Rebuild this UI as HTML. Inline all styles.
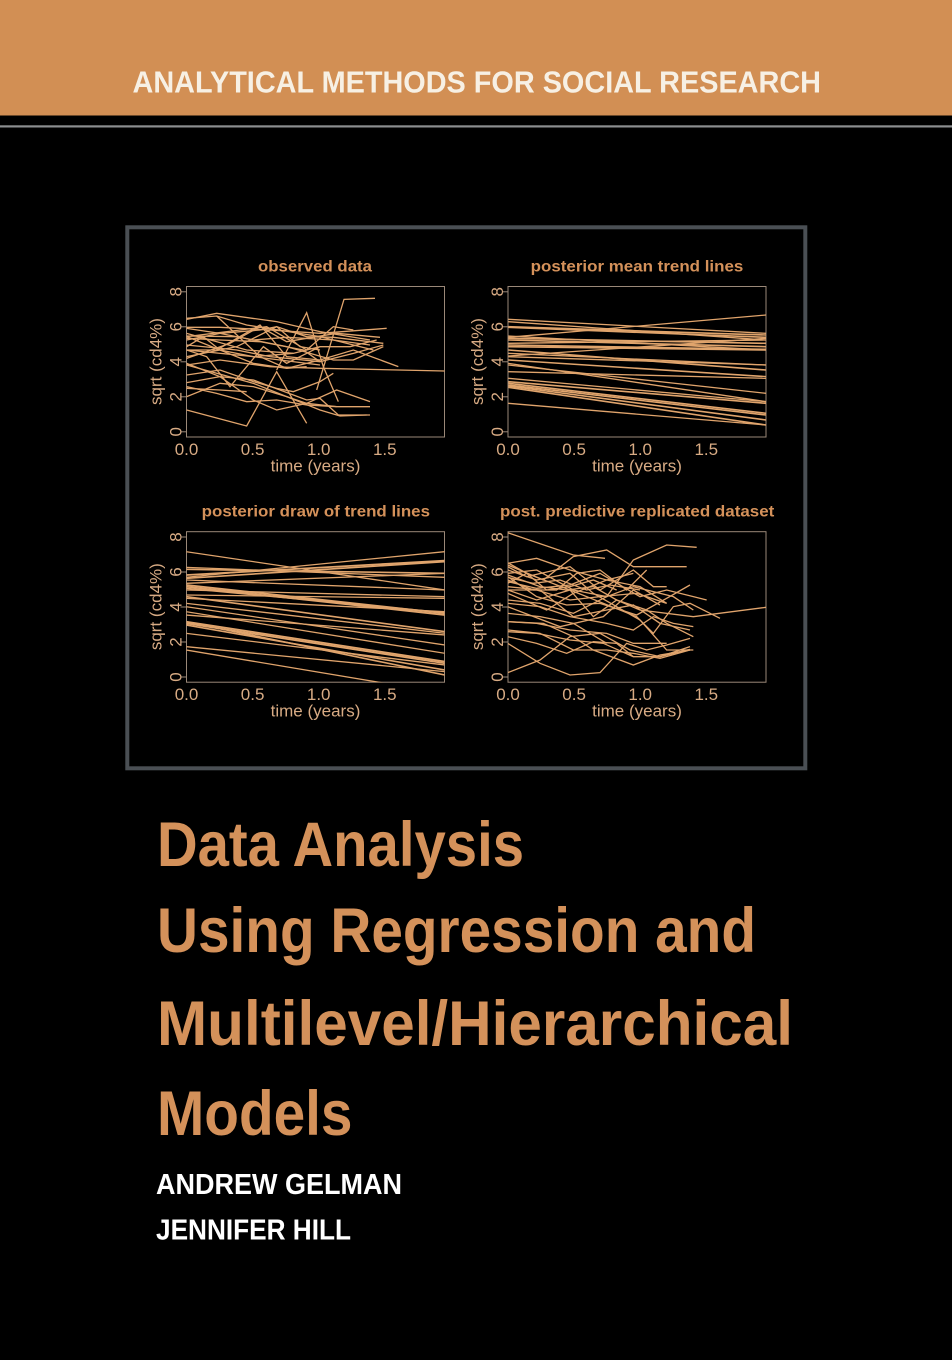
<!DOCTYPE html>
<html><head><meta charset="utf-8"><style>
html,body{margin:0;padding:0;background:#000;}
svg{display:block;}
</style></head><body>
<svg width="952" height="1360" viewBox="0 0 952 1360" xmlns="http://www.w3.org/2000/svg" font-family="'Liberation Sans', sans-serif">
<rect x="0" y="0" width="952" height="1360" fill="#000"/>
<rect x="0" y="0" width="952" height="115.5" fill="#d28f54"/>
<text x="132.5" y="92.7" font-size="31" font-weight="bold" fill="#f7f0e4" textLength="688.5" lengthAdjust="spacingAndGlyphs">ANALYTICAL METHODS FOR SOCIAL RESEARCH</text>
<rect x="0" y="125.3" width="952" height="2.2" fill="#8c8e90"/>
<rect x="127.3" y="227.3" width="678" height="541" fill="none" stroke="#4a4f54" stroke-width="4"/>

<defs>
<clipPath id="c1"><rect x="186.5" y="286.5" width="258" height="150.5"/></clipPath>
<clipPath id="c2"><rect x="508" y="286.5" width="258" height="150.5"/></clipPath>
<clipPath id="c3"><rect x="186.5" y="531.7" width="258" height="150.5"/></clipPath>
<clipPath id="c4"><rect x="508" y="531.7" width="258" height="150.5"/></clipPath>
</defs>

<g fill="#d8ab84" font-size="17">
  <g transform="translate(186.5,286.5)">
    <rect x="0" y="0" width="258" height="150.5" fill="none" stroke="#9a8878" stroke-width="1"/>
    <g stroke="#9a8878" stroke-width="1"><line x1="-6" y1="145.3" x2="0" y2="145.3"/><line x1="-6" y1="110.3" x2="0" y2="110.3"/><line x1="-6" y1="75.3" x2="0" y2="75.3"/><line x1="-6" y1="40.3" x2="0" y2="40.3"/><line x1="-6" y1="5.3" x2="0" y2="5.3"/></g>
    <text transform="translate(-4.8,145.3) rotate(-90)" text-anchor="middle">0</text>
    <text transform="translate(-4.8,110.3) rotate(-90)" text-anchor="middle">2</text>
    <text transform="translate(-4.8,75.3) rotate(-90)" text-anchor="middle">4</text>
    <text transform="translate(-4.8,40.3) rotate(-90)" text-anchor="middle">6</text>
    <text transform="translate(-4.8,5.3) rotate(-90)" text-anchor="middle">8</text>
    <text transform="translate(-24.8,75) rotate(-90)" text-anchor="middle">sqrt (cd4%)</text>
    <text x="0" y="168.5" text-anchor="middle">0.0</text><text x="66.1" y="168.5" text-anchor="middle">0.5</text><text x="132.2" y="168.5" text-anchor="middle">1.0</text><text x="198.3" y="168.5" text-anchor="middle">1.5</text>
    <text x="129" y="185" text-anchor="middle">time (years)</text>
    <text x="71.5" y="-15" font-size="16" font-weight="bold" textLength="114" lengthAdjust="spacingAndGlyphs" fill="#d4915a">observed data</text>
  </g>
  <g transform="translate(508,286.5)">
    <rect x="0" y="0" width="258" height="150.5" fill="none" stroke="#9a8878" stroke-width="1"/>
    <g stroke="#9a8878" stroke-width="1"><line x1="-6" y1="145.3" x2="0" y2="145.3"/><line x1="-6" y1="110.3" x2="0" y2="110.3"/><line x1="-6" y1="75.3" x2="0" y2="75.3"/><line x1="-6" y1="40.3" x2="0" y2="40.3"/><line x1="-6" y1="5.3" x2="0" y2="5.3"/></g>
    <text transform="translate(-4.8,145.3) rotate(-90)" text-anchor="middle">0</text>
    <text transform="translate(-4.8,110.3) rotate(-90)" text-anchor="middle">2</text>
    <text transform="translate(-4.8,75.3) rotate(-90)" text-anchor="middle">4</text>
    <text transform="translate(-4.8,40.3) rotate(-90)" text-anchor="middle">6</text>
    <text transform="translate(-4.8,5.3) rotate(-90)" text-anchor="middle">8</text>
    <text transform="translate(-24.8,75) rotate(-90)" text-anchor="middle">sqrt (cd4%)</text>
    <text x="0" y="168.5" text-anchor="middle">0.0</text><text x="66.1" y="168.5" text-anchor="middle">0.5</text><text x="132.2" y="168.5" text-anchor="middle">1.0</text><text x="198.3" y="168.5" text-anchor="middle">1.5</text>
    <text x="129" y="185" text-anchor="middle">time (years)</text>
    <text x="22.7" y="-15" font-size="16" font-weight="bold" textLength="212.6" lengthAdjust="spacingAndGlyphs" fill="#d4915a">posterior mean trend lines</text>
  </g>
  <g transform="translate(186.5,531.7)">
    <rect x="0" y="0" width="258" height="150.5" fill="none" stroke="#9a8878" stroke-width="1"/>
    <g stroke="#9a8878" stroke-width="1"><line x1="-6" y1="145.3" x2="0" y2="145.3"/><line x1="-6" y1="110.3" x2="0" y2="110.3"/><line x1="-6" y1="75.3" x2="0" y2="75.3"/><line x1="-6" y1="40.3" x2="0" y2="40.3"/><line x1="-6" y1="5.3" x2="0" y2="5.3"/></g>
    <text transform="translate(-4.8,145.3) rotate(-90)" text-anchor="middle">0</text>
    <text transform="translate(-4.8,110.3) rotate(-90)" text-anchor="middle">2</text>
    <text transform="translate(-4.8,75.3) rotate(-90)" text-anchor="middle">4</text>
    <text transform="translate(-4.8,40.3) rotate(-90)" text-anchor="middle">6</text>
    <text transform="translate(-4.8,5.3) rotate(-90)" text-anchor="middle">8</text>
    <text transform="translate(-24.8,75) rotate(-90)" text-anchor="middle">sqrt (cd4%)</text>
    <text x="0" y="168.5" text-anchor="middle">0.0</text><text x="66.1" y="168.5" text-anchor="middle">0.5</text><text x="132.2" y="168.5" text-anchor="middle">1.0</text><text x="198.3" y="168.5" text-anchor="middle">1.5</text>
    <text x="129" y="185" text-anchor="middle">time (years)</text>
    <text x="15.2" y="-15" font-size="16" font-weight="bold" textLength="228.3" lengthAdjust="spacingAndGlyphs" fill="#d4915a">posterior draw of trend lines</text>
  </g>
  <g transform="translate(508,531.7)">
    <rect x="0" y="0" width="258" height="150.5" fill="none" stroke="#9a8878" stroke-width="1"/>
    <g stroke="#9a8878" stroke-width="1"><line x1="-6" y1="145.3" x2="0" y2="145.3"/><line x1="-6" y1="110.3" x2="0" y2="110.3"/><line x1="-6" y1="75.3" x2="0" y2="75.3"/><line x1="-6" y1="40.3" x2="0" y2="40.3"/><line x1="-6" y1="5.3" x2="0" y2="5.3"/></g>
    <text transform="translate(-4.8,145.3) rotate(-90)" text-anchor="middle">0</text>
    <text transform="translate(-4.8,110.3) rotate(-90)" text-anchor="middle">2</text>
    <text transform="translate(-4.8,75.3) rotate(-90)" text-anchor="middle">4</text>
    <text transform="translate(-4.8,40.3) rotate(-90)" text-anchor="middle">6</text>
    <text transform="translate(-4.8,5.3) rotate(-90)" text-anchor="middle">8</text>
    <text transform="translate(-24.8,75) rotate(-90)" text-anchor="middle">sqrt (cd4%)</text>
    <text x="0" y="168.5" text-anchor="middle">0.0</text><text x="66.1" y="168.5" text-anchor="middle">0.5</text><text x="132.2" y="168.5" text-anchor="middle">1.0</text><text x="198.3" y="168.5" text-anchor="middle">1.5</text>
    <text x="129" y="185" text-anchor="middle">time (years)</text>
    <text x="-8" y="-15" font-size="16" font-weight="bold" textLength="274.3" lengthAdjust="spacingAndGlyphs" fill="#d4915a">post. predictive replicated dataset</text>
  </g>
</g>

<g clip-path="url(#c1)">
<g transform="translate(120,250) scale(0.33333)" fill="none" stroke="#e0a46c" stroke-width="1.3">
<polyline vector-effect="non-scaling-stroke" points="200,208 290,190 470,215 600,245 750,270"/>
<polyline vector-effect="non-scaling-stroke" points="200,205 290,198 380,225 600,260 760,300"/>
<polyline vector-effect="non-scaling-stroke" points="200,232 300,232 450,240 600,250 800,235"/>
<polyline vector-effect="non-scaling-stroke" points="200,480 380,528 470,365 560,520"/>
<polyline vector-effect="non-scaling-stroke" points="200,258 350,260 500,290 640,330 700,330 790,290"/>
<polyline vector-effect="non-scaling-stroke" points="470,360 560,188 610,350 655,455"/>
<polyline vector-effect="non-scaling-stroke" points="590,420 672,148 765,145"/>
<polyline vector-effect="non-scaling-stroke" points="200,345 300,330 450,350 600,355 975,363"/>
<polyline vector-effect="non-scaling-stroke" points="200,300 400,320 600,345"/>
<polyline vector-effect="non-scaling-stroke" points="200,320 350,290 470,230 540,290 600,300"/>
<polyline vector-effect="non-scaling-stroke" points="200,260 300,300 400,340 500,355 600,330 700,300 835,350"/>
<polyline vector-effect="non-scaling-stroke" points="200,300 290,300 420,225 500,320 600,330"/>
<polyline vector-effect="non-scaling-stroke" points="200,325 330,280 420,230 500,275 650,250 780,262"/>
<polyline vector-effect="non-scaling-stroke" points="200,440 300,400 400,410 500,440 560,460 650,420 750,455"/>
<polyline vector-effect="non-scaling-stroke" points="200,415 300,420 380,425"/>
<polyline vector-effect="non-scaling-stroke" points="200,410 290,430 380,455 470,450 560,465 650,470 750,470"/>
<polyline vector-effect="non-scaling-stroke" points="200,398 300,380 400,390 480,420 560,450 600,445 655,495 750,495"/>
<polyline vector-effect="non-scaling-stroke" points="200,375 300,360 400,395 470,415 520,425 600,395 640,370"/>
<polyline vector-effect="non-scaling-stroke" points="200,340 300,380 400,450 470,480 560,460 650,470"/>
<polyline vector-effect="non-scaling-stroke" points="200,345 400,400 500,440 600,480 660,498 740,495"/>
<polyline vector-effect="non-scaling-stroke" points="200,285 350,300 450,320 600,335 700,310 790,285"/>
<polyline vector-effect="non-scaling-stroke" points="200,260 440,230 560,300 640,230 700,240"/>
<polyline vector-effect="non-scaling-stroke" points="200,250 380,300 520,310 600,290 690,290 770,270"/>
<polyline vector-effect="non-scaling-stroke" points="200,290 250,260 300,300 400,320 520,310"/>
<polyline vector-effect="non-scaling-stroke" points="200,265 300,270 420,275 550,300 600,335"/>
<polyline vector-effect="non-scaling-stroke" points="200,300 260,320 330,410 430,290 500,340 600,290"/>
<polyline vector-effect="non-scaling-stroke" points="290,198 420,320 500,355 560,350"/>
<polyline vector-effect="non-scaling-stroke" points="200,270 300,250 420,240 470,230 560,260 640,262 790,280"/>
<polyline vector-effect="non-scaling-stroke" points="200,235 300,250 400,270 500,262 640,270 750,285"/>
</g></g>

<g clip-path="url(#c2)">
<g transform="translate(450,250) scale(0.33333)" fill="none" stroke="#e0a46c">
<line vector-effect="non-scaling-stroke" stroke-width="1.3" x1="175" y1="208" x2="948" y2="250"/>
<line vector-effect="non-scaling-stroke" stroke-width="1.3" x1="175" y1="215" x2="948" y2="270"/>
<line vector-effect="non-scaling-stroke" stroke-width="1.6" x1="175" y1="230" x2="948" y2="255"/>
<line vector-effect="non-scaling-stroke" stroke-width="1.6" x1="175" y1="232" x2="948" y2="262"/>
<line vector-effect="non-scaling-stroke" stroke-width="1.3" x1="175" y1="262" x2="948" y2="195"/>
<line vector-effect="non-scaling-stroke" stroke-width="1.3" x1="175" y1="258" x2="948" y2="300"/>
<line vector-effect="non-scaling-stroke" stroke-width="1.6" x1="175" y1="265" x2="948" y2="280"/>
<line vector-effect="non-scaling-stroke" stroke-width="1.6" x1="175" y1="270" x2="948" y2="290"/>
<line vector-effect="non-scaling-stroke" stroke-width="1.3" x1="175" y1="280" x2="948" y2="270"/>
<line vector-effect="non-scaling-stroke" stroke-width="1.6" x1="175" y1="285" x2="948" y2="298"/>
<line vector-effect="non-scaling-stroke" stroke-width="1.6" x1="175" y1="290" x2="948" y2="300"/>
<line vector-effect="non-scaling-stroke" stroke-width="1.6" x1="175" y1="300" x2="948" y2="360"/>
<line vector-effect="non-scaling-stroke" stroke-width="1.3" x1="175" y1="310" x2="948" y2="345"/>
<line vector-effect="non-scaling-stroke" stroke-width="1.3" x1="175" y1="318" x2="948" y2="265"/>
<line vector-effect="non-scaling-stroke" stroke-width="1.3" x1="175" y1="320" x2="948" y2="345"/>
<line vector-effect="non-scaling-stroke" stroke-width="1.6" x1="175" y1="330" x2="948" y2="380"/>
<line vector-effect="non-scaling-stroke" stroke-width="1.3" x1="175" y1="345" x2="948" y2="430"/>
<line vector-effect="non-scaling-stroke" stroke-width="1.3" x1="175" y1="340" x2="948" y2="455"/>
<line vector-effect="non-scaling-stroke" stroke-width="1.3" x1="175" y1="365" x2="948" y2="385"/>
<line vector-effect="non-scaling-stroke" stroke-width="1.3" x1="175" y1="385" x2="948" y2="455"/>
<line vector-effect="non-scaling-stroke" stroke-width="1.6" x1="175" y1="395" x2="948" y2="460"/>
<line vector-effect="non-scaling-stroke" stroke-width="1.6" x1="175" y1="400" x2="948" y2="490"/>
<line vector-effect="non-scaling-stroke" stroke-width="1.6" x1="175" y1="405" x2="948" y2="495"/>
<line vector-effect="non-scaling-stroke" stroke-width="1.6" x1="175" y1="408" x2="948" y2="510"/>
<line vector-effect="non-scaling-stroke" stroke-width="1.6" x1="175" y1="412" x2="948" y2="525"/>
<line vector-effect="non-scaling-stroke" stroke-width="1.3" x1="175" y1="460" x2="948" y2="525"/>
</g></g>

<g clip-path="url(#c3)">
<g transform="translate(130,490) scale(0.33333)" fill="none" stroke="#e0a46c">
<line vector-effect="non-scaling-stroke" stroke-width="1.3" x1="168" y1="185" x2="945" y2="300"/>
<line vector-effect="non-scaling-stroke" stroke-width="1.3" x1="168" y1="232" x2="945" y2="262"/>
<line vector-effect="non-scaling-stroke" stroke-width="1.6" x1="168" y1="238" x2="945" y2="250"/>
<line vector-effect="non-scaling-stroke" stroke-width="1.8" x1="168" y1="255" x2="945" y2="212"/>
<line vector-effect="non-scaling-stroke" stroke-width="1.3" x1="168" y1="262" x2="945" y2="185"/>
<line vector-effect="non-scaling-stroke" stroke-width="1.6" x1="168" y1="265" x2="945" y2="215"/>
<line vector-effect="non-scaling-stroke" stroke-width="1.3" x1="168" y1="270" x2="945" y2="300"/>
<line vector-effect="non-scaling-stroke" stroke-width="1.3" x1="168" y1="280" x2="945" y2="250"/>
<line vector-effect="non-scaling-stroke" stroke-width="1.8" x1="168" y1="285" x2="945" y2="370"/>
<line vector-effect="non-scaling-stroke" stroke-width="1.8" x1="168" y1="290" x2="945" y2="375"/>
<line vector-effect="non-scaling-stroke" stroke-width="1.6" x1="168" y1="295" x2="945" y2="368"/>
<line vector-effect="non-scaling-stroke" stroke-width="1.3" x1="168" y1="300" x2="945" y2="320"/>
<line vector-effect="non-scaling-stroke" stroke-width="1.3" x1="168" y1="315" x2="945" y2="325"/>
<line vector-effect="non-scaling-stroke" stroke-width="1.6" x1="168" y1="320" x2="945" y2="425"/>
<line vector-effect="non-scaling-stroke" stroke-width="1.3" x1="168" y1="325" x2="945" y2="365"/>
<line vector-effect="non-scaling-stroke" stroke-width="1.3" x1="168" y1="340" x2="945" y2="430"/>
<line vector-effect="non-scaling-stroke" stroke-width="1.3" x1="168" y1="350" x2="945" y2="465"/>
<line vector-effect="non-scaling-stroke" stroke-width="1.3" x1="168" y1="365" x2="945" y2="490"/>
<line vector-effect="non-scaling-stroke" stroke-width="1.3" x1="168" y1="375" x2="945" y2="435"/>
<line vector-effect="non-scaling-stroke" stroke-width="1.8" x1="168" y1="395" x2="945" y2="515"/>
<line vector-effect="non-scaling-stroke" stroke-width="1.8" x1="168" y1="400" x2="945" y2="520"/>
<line vector-effect="non-scaling-stroke" stroke-width="1.6" x1="168" y1="405" x2="945" y2="540"/>
<line vector-effect="non-scaling-stroke" stroke-width="1.6" x1="168" y1="395" x2="945" y2="555"/>
<line vector-effect="non-scaling-stroke" stroke-width="1.3" x1="168" y1="430" x2="945" y2="525"/>
<line vector-effect="non-scaling-stroke" stroke-width="1.3" x1="168" y1="470" x2="945" y2="545"/>
<line vector-effect="non-scaling-stroke" stroke-width="1.3" x1="168" y1="480" x2="945" y2="610"/>
</g></g>

<g clip-path="url(#c4)">
<g transform="translate(460,490) scale(0.33333)" fill="none" stroke="#e0a46c" stroke-width="1.3">
<polyline vector-effect="non-scaling-stroke" points="143,128 340,195 435,205"/>
<polyline vector-effect="non-scaling-stroke" points="143,220 230,205 330,240 440,270 540,290 620,340"/>
<polyline vector-effect="non-scaling-stroke" points="143,225 250,270 340,200 440,180 520,230 680,230"/>
<polyline vector-effect="non-scaling-stroke" points="143,230 200,260 330,230 420,300 520,240 580,290 620,290"/>
<polyline vector-effect="non-scaling-stroke" points="143,250 230,240 340,300 440,320 520,210 620,165 710,172"/>
<polyline vector-effect="non-scaling-stroke" points="143,260 230,320 320,345 420,340 530,375 620,325 690,285"/>
<polyline vector-effect="non-scaling-stroke" points="143,275 230,295 330,285 420,250 540,320 620,300 700,320 740,330"/>
<polyline vector-effect="non-scaling-stroke" points="143,290 240,300 340,380 440,360 520,345 600,400 690,420"/>
<polyline vector-effect="non-scaling-stroke" points="143,300 230,330 330,300 430,340 530,380 580,430 640,350 690,340 780,385"/>
<polyline vector-effect="non-scaling-stroke" points="143,310 260,360 340,310 440,270 520,250"/>
<polyline vector-effect="non-scaling-stroke" points="143,330 240,340 340,370 440,320 520,290 640,320 700,360"/>
<polyline vector-effect="non-scaling-stroke" points="143,340 240,350 330,380 440,400 520,420 580,380 640,400 700,410"/>
<polyline vector-effect="non-scaling-stroke" points="143,350 300,410 430,380 520,300 600,345"/>
<polyline vector-effect="non-scaling-stroke" points="143,395 230,400 330,420 440,430 520,460 620,460"/>
<polyline vector-effect="non-scaling-stroke" points="143,420 240,430 340,480 440,480 520,490 600,505 690,480"/>
<polyline vector-effect="non-scaling-stroke" points="143,425 230,430 330,450 430,460 520,500 600,500 690,478"/>
<polyline vector-effect="non-scaling-stroke" points="143,440 230,460 320,490 400,455 470,460 520,500"/>
<polyline vector-effect="non-scaling-stroke" points="143,460 240,520 330,555 420,548 500,460 560,480 620,465 690,445"/>
<polyline vector-effect="non-scaling-stroke" points="143,548 240,510 330,440 420,430 510,480 600,500 690,470"/>
<polyline vector-effect="non-scaling-stroke" points="143,395 250,400 340,440 400,480 520,525 600,495 690,480"/>
<polyline vector-effect="non-scaling-stroke" points="143,370 240,380 340,400 440,460"/>
<polyline vector-effect="non-scaling-stroke" points="143,280 200,250 330,300 400,380 470,330 540,360 700,380 918,352"/>
<polyline vector-effect="non-scaling-stroke" points="143,300 230,300 330,330 420,320 530,310 620,340"/>
<polyline vector-effect="non-scaling-stroke" points="143,240 230,270 330,250 400,310 470,350 540,390 620,480 700,480"/>
<polyline vector-effect="non-scaling-stroke" points="143,255 240,290 320,300 400,290 470,330 560,360 620,400 700,440"/>
<polyline vector-effect="non-scaling-stroke" points="143,270 220,300 290,300 350,250 420,240 500,300 560,240"/>
<polyline vector-effect="non-scaling-stroke" points="143,218 200,250 260,300 330,290 400,270 470,300"/>
<polyline vector-effect="non-scaling-stroke" points="143,262 220,280 300,270 380,300 450,285 540,300"/>
</g></g>

<g font-weight="bold" fill="#d4915a" font-size="63">
<text x="157" y="866" textLength="367" lengthAdjust="spacingAndGlyphs">Data Analysis</text>
<text x="157" y="952" textLength="599" lengthAdjust="spacingAndGlyphs">Using Regression and</text>
<text x="157" y="1045" textLength="636" lengthAdjust="spacingAndGlyphs">Multilevel/Hierarchical</text>
<text x="157" y="1135" textLength="195.5" lengthAdjust="spacingAndGlyphs">Models</text>
</g>
<g font-weight="bold" fill="#ffffff" font-size="29">
<text x="156" y="1194" textLength="246" lengthAdjust="spacingAndGlyphs">ANDREW GELMAN</text>
<text x="156" y="1239.5" textLength="195" lengthAdjust="spacingAndGlyphs">JENNIFER HILL</text>
</g>
</svg>
</body></html>
